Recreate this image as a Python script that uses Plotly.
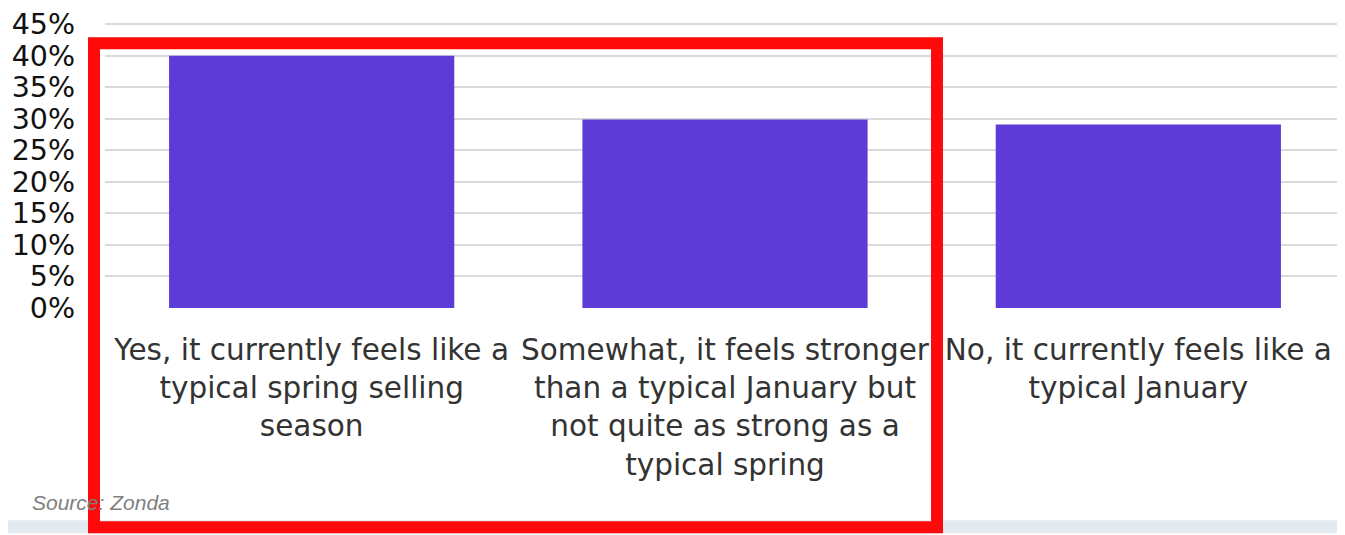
import plotly.graph_objects as go

categories = [
    "Yes, it currently feels like a<br>typical spring selling<br>season",
    "Somewhat, it feels stronger<br>than a typical January but<br>not quite as strong as a<br>typical spring",
    "No, it currently feels like a<br>typical January",
]
values = [40.0, 29.9, 29.1]
tick_vals = [0, 5, 10, 15, 20, 25, 30, 35, 40, 45]
tick_text = ["0%", "5%", "10%", "15%", "20%", "25%", "30%", "35%", "40%", "45%"]
source_text = "Source: Zonda"

x_idx = list(range(len(categories)))

# page body has an 8px margin, so the figure is 8px smaller than the window
W, H = 1337, 527
YMAX = 46.0
PL, PW = 97, 1240
PX_PER_UNIT = 286 / 45
PH = PX_PER_UNIT * YMAX
BOTTOM = 300  # y of 0% inside the figure
TOP = BOTTOM - PH

fig = go.Figure()
fig.add_trace(go.Bar(
    x=x_idx, y=values, width=0.69,
    marker=dict(color="#5d3bd6", line=dict(width=0)),
    hoverinfo="skip",
))

fig.update_layout(
    width=W, height=H,
    margin=dict(l=PL, r=0, t=TOP, b=H - BOTTOM, pad=0),
    paper_bgcolor="white", plot_bgcolor="white",
    showlegend=False,
    font=dict(family="DejaVu Sans, sans-serif"),
    xaxis=dict(
        tickmode="array", tickvals=x_idx, ticktext=categories,
        range=[-0.5, 2.5], showgrid=False, zeroline=False, showline=False,
        ticks="", tickfont=dict(size=29.5, color="#333333"), ticklabelstandoff=21,
    ),
    yaxis=dict(
        range=[0, YMAX], tickmode="array", tickvals=tick_vals, ticktext=tick_text,
        showgrid=True, gridcolor="#dadada", gridwidth=2, zeroline=False,
        showline=False, ticks="", tickfont=dict(size=28.5, color="#111111"),
        ticklabelstandoff=29, ticklabeloverflow="allow",
    ),
)

# light strips of page background at bottom/left
fig.add_shape(type="rect", xref="paper", yref="paper", x0=-105/PW, x1=-97/PW,
              y0=-227/PH, y1=-200/PH, fillcolor="#e3eaf0", line=dict(width=0), layer="below")
fig.add_shape(type="rect", xref="paper", yref="paper", x0=-105/PW, x1=1,
              y0=-227/PH, y1=-214/PH, fillcolor="#e3eaf0", line=dict(width=0), layer="below")

fig.add_annotation(
    text="<i>" + source_text + "</i>", xref="paper", yref="paper",
    x=-75/PW, y=-196/PH, xanchor="left", yanchor="middle",
    showarrow=False, font=dict(family="Liberation Sans, Arial", size=21, color="#808080"),
)

# red highlight box (pixel offsets from the plot's bottom-left corner)
fig.add_shape(type="rect", xref="paper", yref="paper",
              x0=-11/PW, x1=832/PW, y0=-221/PH, y1=267/PH,
              line=dict(color="#ff0a0a", width=12), fillcolor="rgba(0,0,0,0)", layer="above")

fig.write_html("out.html")
